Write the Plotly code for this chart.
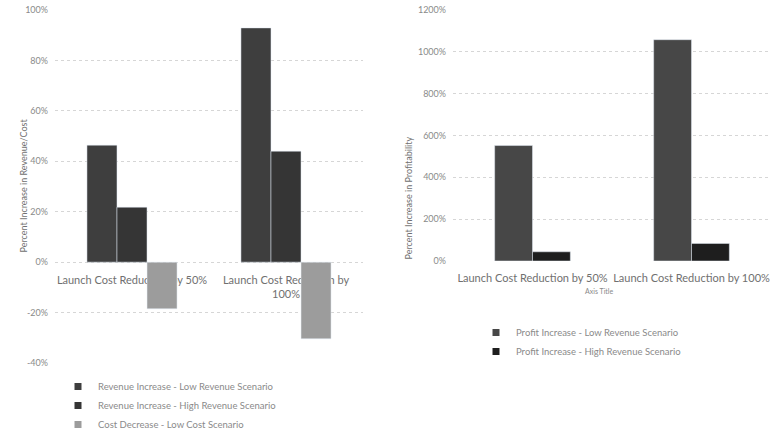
import plotly.graph_objects as go

categories = ["Launch Cost Reduction by 50%", "Launch Cost Reduction by 100%"]
left_labels = ["Launch Cost Reduction by 50%", "Launch Cost Reduction by<br>100%"]

rev_low = [46.4, 92.9]
rev_high = [21.8, 44.0]
cost_low = [-18.5, -30.4]

profit_low = [552, 1058]
profit_high = [44, 84]

left_ticks = [-40, -20, 0, 20, 40, 60, 80, 100]
right_ticks = [0, 200, 400, 600, 800, 1000, 1200]

FONT = "Lato"
TICK_COLOR = "#8a8a8a"
LABEL_COLOR = "#707070"

fig = go.Figure()

lw = 0.195
left_series = [
    (rev_low, "Revenue Increase - Low Revenue Scenario", "#3e3e3e", -1.5 * lw),
    (rev_high, "Revenue Increase - High Revenue Scenario", "#353535", -0.5 * lw),
    (cost_low, "Cost Decrease - Low Cost Scenario", "#9c9c9c", 0.5 * lw),
]
for vals, name, color, off in left_series:
    fig.add_trace(go.Bar(x=categories, y=vals, name=name, marker_color=color,
                         width=lw, offset=off, xaxis="x", yaxis="y", showlegend=False))

rw = 0.238
right_series = [
    (profit_low, "Profit Increase - Low Revenue Scenario", "#474747", -rw),
    (profit_high, "Profit Increase - High Revenue Scenario", "#1e1e1e", 0.0),
]
for vals, name, color, off in right_series:
    fig.add_trace(go.Bar(x=categories, y=vals, name=name, marker_color=color,
                         width=rw, offset=off, xaxis="x2", yaxis="y2", showlegend=False))

# legend entries with small square keys
for vals, name, color, off in left_series:
    fig.add_trace(go.Scatter(x=[None], y=[None], mode="markers", name=name,
                             marker=dict(symbol="square", size=7, color=color),
                             xaxis="x", yaxis="y", legend="legend"))
for vals, name, color, off in right_series:
    fig.add_trace(go.Scatter(x=[None], y=[None], mode="markers", name=name,
                             marker=dict(symbol="square", size=7, color=color),
                             xaxis="x2", yaxis="y2", legend="legend2"))

W, H = 773, 429

def px(x):
    return x / W

def py(y):
    return 1 - y / H

grid = dict(showgrid=True, gridcolor="#d6d6d6", griddash="dot", gridwidth=1,
            zeroline=False, showline=False, ticks="",
            tickfont=dict(family=FONT, size=9, color=TICK_COLOR))

xlab_font = dict(family=FONT, size=11, color=LABEL_COLOR)

fig.update_layout(
    width=W, height=H,
    margin=dict(l=0, r=0, t=0, b=0, autoexpand=False),
    paper_bgcolor="white", plot_bgcolor="white",
    barmode="overlay",
    font=dict(family=FONT, color=LABEL_COLOR),
    xaxis=dict(domain=[px(55), px(363)], anchor="free", position=py(261),
               tickvals=categories, ticktext=left_labels, tickfont=xlab_font,
               layer="below traces", ticklabelstandoff=11,
               showgrid=False, zeroline=False, showline=False, ticks="",
               categoryorder="array", categoryarray=categories, automargin=False),
    yaxis=dict(domain=[py(363), py(10)], anchor="x", range=[-40, 100],
               tickvals=left_ticks, ticktext=[f"{v}%" for v in left_ticks],
               ticklabelstandoff=6, automargin=False, **grid),
    xaxis2=dict(domain=[px(453), px(771)], anchor="y2",
                tickfont=xlab_font, ticklabelstandoff=9,
                showgrid=False, zeroline=False, showline=False, ticks="",
                categoryorder="array", categoryarray=categories, automargin=False),
    yaxis2=dict(domain=[py(261), py(10)], anchor="x2", range=[0, 1200],
                tickvals=right_ticks, ticktext=[f"{v}%" for v in right_ticks],
                ticklabelstandoff=6, automargin=False, **grid),
    legend=dict(x=px(58), y=py(372), xanchor="left", yanchor="top",
                orientation="v", itemwidth=30, bgcolor="rgba(0,0,0,0)",
                font=dict(family=FONT, size=9.5, color=TICK_COLOR),
                tracegroupgap=0, traceorder="normal"),
    legend2=dict(x=px(476), y=py(318), xanchor="left", yanchor="top",
                 orientation="v", itemwidth=30, bgcolor="rgba(0,0,0,0)",
                 font=dict(family=FONT, size=9.5, color=TICK_COLOR),
                 tracegroupgap=0, traceorder="normal"),
    showlegend=True,
)

annotations = [
    dict(x=px(15), y=py(186), xref="paper", yref="paper",
         text="Percent Increase in Revenue/Cost", textangle=-90, showarrow=False,
         font=dict(family=FONT, size=9, color=LABEL_COLOR)),
    dict(x=px(408), y=py(135), xref="paper", yref="paper",
         text="Percent Increase in Profitability", textangle=-90, showarrow=False,
         font=dict(family=FONT, size=9, color=LABEL_COLOR)),
    dict(x=px(615), y=py(297), xref="paper", yref="paper",
         text="Axis Title", showarrow=False,
         font=dict(family=FONT, size=7, color=TICK_COLOR)),
]
fig.update_layout(annotations=annotations)

fig.write_html("out.html")
